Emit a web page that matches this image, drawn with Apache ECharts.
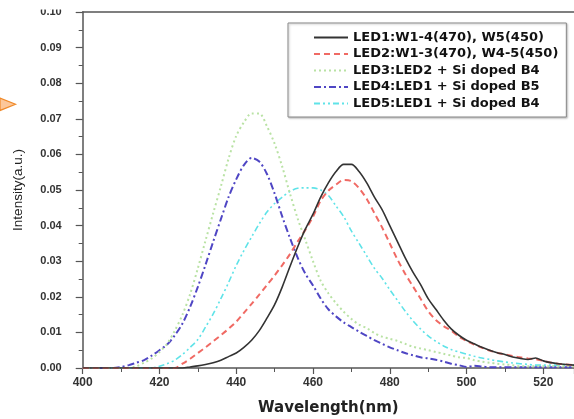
<!DOCTYPE html>
<html>
<head>
<meta charset="utf-8">
<script src="https://cdn.jsdelivr.net/npm/echarts@6/dist/echarts.min.js"></script>
<style>
html,body{margin:0;padding:0;background:#fff;}
#chart{width:574px;height:419px;}
</style>
</head>
<body>
<div id="chart"></div>
<script>
// Wavelength (nm), sampled every 2 nm
const wavelengths = [400,402,404,406,408,410,412,414,416,418,420,422,424,426,428,430,432,434,436,438,440,442,444,446,448,450,452,454,456,458,460,462,464,466,468,470,472,474,476,478,480,482,484,486,488,490,492,494,496,498,500,502,504,506,508,510,512,514,516,518,520,522,524,526,528];

const led1 = [0,0,0,0,0,0,0,0,0,0,0,0,0,0,0.0003,0.0006,0.001,0.0015,0.0022,0.0032,0.0042,0.0058,0.0078,0.0105,0.014,0.0178,0.0228,0.0285,0.034,0.039,0.0432,0.048,0.052,0.0552,0.0572,0.0572,0.0552,0.052,0.048,0.0445,0.04,0.0355,0.031,0.027,0.0235,0.0195,0.0165,0.0135,0.011,0.0092,0.0078,0.0068,0.0058,0.005,0.0043,0.0038,0.0031,0.0027,0.0024,0.0028,0.002,0.0015,0.0012,0.001,0.0008];

const led2 = [0,0,0,0,0,0,0,0,0,0,0,0,0,0.0012,0.0026,0.0042,0.0058,0.0075,0.0092,0.011,0.013,0.0155,0.018,0.0206,0.0233,0.026,0.0289,0.032,0.0355,0.0388,0.0425,0.047,0.0498,0.0515,0.0528,0.0525,0.0505,0.0475,0.0435,0.0395,0.035,0.0305,0.0265,0.023,0.0195,0.016,0.0135,0.0118,0.0105,0.0088,0.0076,0.0066,0.0057,0.0049,0.0043,0.0038,0.0034,0.003,0.0027,0.0025,0.002,0.0015,0.0012,0.001,0.0008];

const led3 = [0,0,0,0,0,0,0,0.0005,0.0015,0.0027,0.0045,0.0068,0.0105,0.015,0.0208,0.028,0.0358,0.0435,0.051,0.0588,0.0652,0.069,0.0715,0.0715,0.0679,0.063,0.0565,0.049,0.042,0.036,0.03,0.0245,0.021,0.0182,0.0158,0.0138,0.0122,0.0112,0.0098,0.0088,0.0082,0.0076,0.0068,0.006,0.0055,0.005,0.0045,0.004,0.0035,0.003,0.0028,0.0022,0.0018,0.0015,0.0012,0.001,0.0008,0.0005,0.0005,0.0005,0.0005,0.0005,0.0005,0.0005,0.0005];

const led4 = [0,0,0,0,0,0.0003,0.0008,0.0015,0.0022,0.0035,0.005,0.0066,0.0092,0.0125,0.0172,0.0228,0.029,0.0355,0.0418,0.048,0.053,0.057,0.059,0.058,0.0545,0.049,0.0425,0.0365,0.031,0.0265,0.0232,0.0195,0.0165,0.0145,0.0128,0.0115,0.0102,0.009,0.0078,0.0068,0.0058,0.005,0.0042,0.0036,0.003,0.0027,0.0023,0.0018,0.0012,0.0008,0.0003,0.0006,0.0004,0.0002,0.0002,0.0002,0.0002,0.0002,0.0002,0.0002,0.0002,0.0002,0.0002,0.0002,0.0002];

const led5 = [0,0,0,0,0,0,0,0,0,0,0.0005,0.0012,0.0022,0.0038,0.0058,0.008,0.0115,0.0152,0.0195,0.024,0.0288,0.033,0.0368,0.0405,0.0438,0.0462,0.048,0.0496,0.0505,0.0506,0.0506,0.05,0.0485,0.0455,0.0425,0.0385,0.035,0.0315,0.028,0.0252,0.022,0.019,0.016,0.0133,0.011,0.009,0.0075,0.0062,0.0052,0.0045,0.0039,0.0033,0.0028,0.0024,0.002,0.0017,0.0014,0.0012,0.001,0.0008,0.0008,0.0008,0.0008,0.0008,0.0008];

const seriesNames = ['LED1:W1-4(470), W5(450)','LED2:W1-3(470), W4-5(450)','LED3:LED2 + Si doped B4','LED4:LED1 + Si doped B5','LED5:LED1 + Si doped B4'];
const xTitle = 'Wavelength(nm)';
const yTitle = 'Intensity(a.u.)';

const allValues = [led1, led2, led3, led4, led5];
const styles = [
  {color:'#333333', width:1.6, type:'solid'},
  {color:'#f06a64', width:2, type:[6,4]},
  {color:'#b9e2a4', width:2, type:[2,3]},
  {color:'#4f46c4', width:2, type:[7,3,2,3]},
  {color:'#5fe3e8', width:1.6, type:[6,3,2,3,2,3]}
];

const series = allValues.map((vals, i) => ({
  name: seriesNames[i],
  type: 'line',
  symbol: 'none',
  smooth: 0.3,
  data: wavelengths.map((w, j) => [w, vals[j]]),
  itemStyle: {color: styles[i].color},
  lineStyle: {color: styles[i].color, width: styles[i].width, type: styles[i].type},
  z: 5 - i
}));

const axisColor = '#555';
const chart = echarts.init(document.getElementById('chart'), null, {renderer:'canvas'});
chart.setOption({
  animation: false,
  backgroundColor: '#fff',
  grid: {left: 82.7, top: 12, right: 0, bottom: 51, outerBoundsMode: 'none', containLabel: false},
  legend: {
    orient: 'vertical',
    left: 288, top: 23,
    data: seriesNames,
    itemWidth: 34, itemHeight: 12, itemGap: 3.5,
    itemStyle: {opacity: 0},
    padding: [8, 8, 7, 25],
    borderColor: '#8a8a8a', borderWidth: 1,
    shadowColor: 'rgba(0,0,0,0.25)', shadowBlur: 2, shadowOffsetX: 1, shadowOffsetY: 1,
    backgroundColor: '#fff',
    textStyle: {fontFamily: 'DejaVu Sans', fontWeight: 'bold', fontSize: 13, color: '#111'}
  },
  xAxis: [{
    type: 'value', min: 400, max: 528, interval: 20,
    name: xTitle, nameLocation: 'middle', nameGap: 33,
    nameTextStyle: {fontFamily: 'DejaVu Sans', fontWeight: 'bold', fontSize: 15, color: '#222'},
    axisLine: {show: true, onZero: false, lineStyle: {color: axisColor, width: 1.5}},
    axisTick: {show: true, inside: false, length: 6, lineStyle: {color: axisColor, width: 1.2}},
    minorTick: {show: true, splitNumber: 2, length: 4, lineStyle: {color: axisColor, width: 1}},
    axisLabel: {margin: 9, showMaxLabel: false, fontFamily: 'Liberation Sans', fontWeight: 'bold', fontSize: 12, color: '#333'},
    splitLine: {show: false}
  }, {
    type: 'value', min: 400, max: 528, position: 'top',
    axisLine: {show: true, onZero: false, lineStyle: {color: axisColor, width: 1.5}},
    axisTick: {show: false}, axisLabel: {show: false}, splitLine: {show: false}
  }],
  yAxis: {
    type: 'value', min: 0, max: 0.1, interval: 0.01,
    name: yTitle, nameLocation: 'middle', nameGap: 57, nameRotate: 90,
    nameTextStyle: {fontFamily: 'Liberation Sans', fontSize: 13.5, color: '#222'},
    axisLine: {show: true, lineStyle: {color: axisColor, width: 1.5}},
    axisTick: {show: true, inside: false, length: 7, lineStyle: {color: axisColor, width: 1.2}},
    minorTick: {show: true, splitNumber: 2, length: 4, lineStyle: {color: axisColor, width: 1}},
    axisLabel: {margin: 21, fontFamily: 'Liberation Sans', fontWeight: 'bold', fontSize: 11, color: '#333',
      formatter: v => v.toFixed(2)},
    splitLine: {show: false}
  },
  graphic: [
    {type: 'rect', left: 0, top: 0, zlevel: 1, shape: {width: 78, height: 9.5}, style: {fill: '#fff'}, z: 100},
    {type: 'polygon', zlevel: 1, shape: {points: [[0, 98], [15.5, 104.3], [0, 110.5]]},
     style: {fill: '#fcc79a', stroke: '#f08a2a', lineWidth: 1.2}, z: 100}
  ],
  series: series
});
</script>
</body>
</html>
